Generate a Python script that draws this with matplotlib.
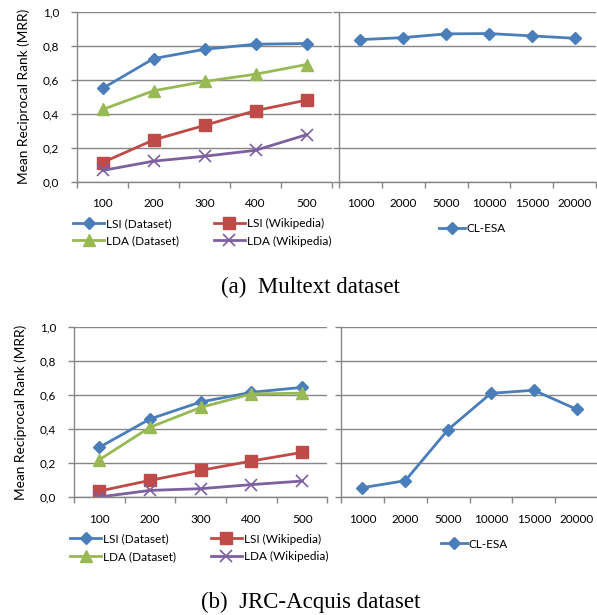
import matplotlib
matplotlib.use("Agg")
import matplotlib.pyplot as plt
import numpy as np

# ---- data ----
topics = ["100", "200", "300", "400", "500"]
esa_dims = ["1000", "2000", "5000", "10000", "15000", "20000"]
yticks = [0.0, 0.2, 0.4, 0.6, 0.8, 1.0]
ytick_labels = ["0,0", "0,2", "0,4", "0,6", "0,8", "1,0"]

# (a) Multext
a_lsi_dataset = [0.549, 0.725, 0.780, 0.810, 0.814]
a_lsi_wiki = [0.112, 0.245, 0.331, 0.418, 0.480]
a_lda_dataset = [0.425, 0.535, 0.590, 0.633, 0.690]
a_lda_wiki = [0.065, 0.120, 0.149, 0.184, 0.276]
a_clesa = [0.837, 0.849, 0.871, 0.873, 0.859, 0.845]

# (b) JRC-Acquis
b_lsi_dataset = [0.293, 0.460, 0.560, 0.617, 0.646]
b_lsi_wiki = [0.035, 0.098, 0.157, 0.212, 0.263]
b_lda_dataset = [0.220, 0.411, 0.528, 0.607, 0.612]
b_lda_wiki = [0.000, 0.039, 0.049, 0.073, 0.094]
b_clesa = [0.055, 0.096, 0.397, 0.611, 0.629, 0.517]

series_names = ["LSI (Dataset)", "LSI (Wikipedia)", "LDA (Dataset)", "LDA (Wikipedia)"]
captions = ["(a)  Multext dataset", "(b)  JRC-Acquis dataset"]

# ---- style ----
BLUE = "#4A7EBB"
RED = "#BE4B48"
GREEN = "#98B954"
PURPLE = "#7D60A0"
GRAY = "#868686"
FONT = "Lato"

W, H = 597, 615
fig = plt.figure(figsize=(W / 100, H / 100), dpi=100)


def px_axes(x0, y0, x1, y1):
    return fig.add_axes([x0 / W, 1 - y1 / H, (x1 - x0) / W, (y1 - y0) / H])


def style_axes(ax, labels, show_ylabels):
    n = len(labels)
    ax.set_xlim(-0.5, n - 0.5)
    ax.set_ylim(0, 1.0)
    ax.set_yticks(yticks)
    if show_ylabels:
        ax.set_yticklabels(ytick_labels, fontsize=8.5, family=FONT)
    else:
        ax.set_yticklabels([])
    ax.set_xticks(np.arange(-0.5, n, 1.0))
    ax.set_xticklabels([])
    ax.set_xticks(np.arange(n), minor=True)
    ax.set_xticklabels(labels, minor=True, fontsize=8.5, family=FONT)
    ax.tick_params(axis="x", which="minor", length=0, pad=12)
    ax.tick_params(axis="x", which="major", length=4, color=GRAY, width=1)
    ax.tick_params(axis="y", length=4, color=GRAY, width=1, pad=9)
    for s in ["top", "right"]:
        ax.spines[s].set_visible(False)
    for s in ["left", "bottom"]:
        ax.spines[s].set_color(GRAY)
        ax.spines[s].set_linewidth(1)
    ax.grid(axis="y", color=GRAY, linewidth=1)
    ax.set_axisbelow(True)


def plot_left(ax, lsi_d, lsi_w, lda_d, lda_w):
    x = np.arange(len(topics))
    lw = 2.0
    h1, = ax.plot(x, lsi_d, color=BLUE, lw=lw, marker="D", ms=6)
    h2, = ax.plot(x, lsi_w, color=RED, lw=lw, marker="s", ms=8)
    h3, = ax.plot(x, lda_d, color=GREEN, lw=lw, marker="^", ms=8)
    h4, = ax.plot(x, lda_w, color=PURPLE, lw=lw, marker="x", ms=8, mew=1.2)
    style_axes(ax, topics, True)
    ax.set_ylabel("Mean Reciprocal Rank (MRR)", fontsize=9.8, family=FONT, labelpad=9)
    leg = ax.legend([h1, h3, h2, h4], [series_names[0], series_names[2], series_names[1], series_names[3]],
                    ncol=2, frameon=False, loc="upper left",
                    bbox_to_anchor=(-0.015, -0.215), prop={"family": FONT, "size": 8.5},
                    handlelength=2.6, handletextpad=0.15, columnspacing=3.0,
                    labelspacing=0.55, borderpad=0, borderaxespad=0)
    return leg


def plot_right(ax, vals):
    x = np.arange(len(esa_dims))
    h, = ax.plot(x, vals, color=BLUE, lw=2.0, marker="D", ms=6)
    style_axes(ax, esa_dims, False)
    ax.legend([h], ["CL-ESA"], frameon=False, loc="upper left",
              bbox_to_anchor=(0.39, -0.245), prop={"family": FONT, "size": 8.5},
              handlelength=2.2, handletextpad=0.15, borderpad=0, borderaxespad=0)


ax_a1 = px_axes(77, 12, 332, 181.5)
ax_a2 = px_axes(339, 12, 596, 181.5)
ax_b1 = px_axes(74, 327.3, 327.5, 497)
ax_b2 = px_axes(341, 327.3, 598, 497)

plot_left(ax_a1, a_lsi_dataset, a_lsi_wiki, a_lda_dataset, a_lda_wiki)
plot_right(ax_a2, a_clesa)
plot_left(ax_b1, b_lsi_dataset, b_lsi_wiki, b_lda_dataset, b_lda_wiki)
plot_right(ax_b2, b_clesa)

fig.text(310 / W, 1 - 287 / H, captions[0], ha="center", va="center",
         family="Liberation Serif", fontsize=16.5)
fig.text(311 / W, 1 - 602 / H, captions[1], ha="center", va="center",
         family="Liberation Serif", fontsize=16.5)

fig.savefig("out.png", dpi=100)
